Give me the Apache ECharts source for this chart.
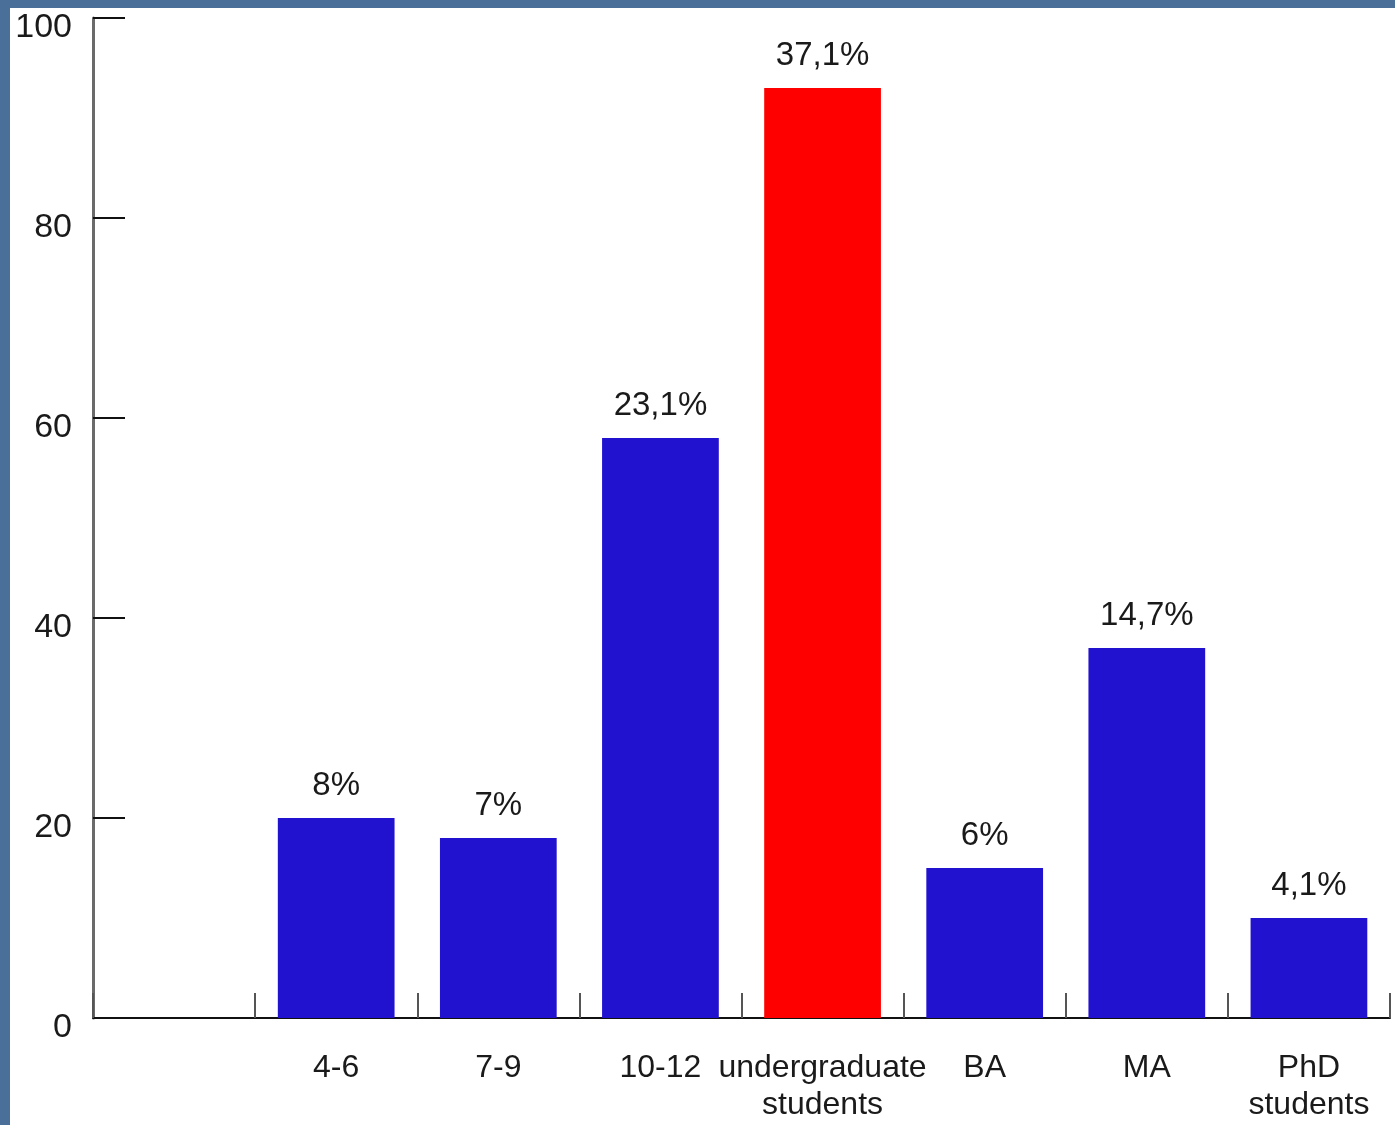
<!DOCTYPE html>
<html>
<head>
<meta charset="utf-8">
<script src="https://cdn.jsdelivr.net/npm/echarts@6/dist/echarts.min.js"></script>
<style>
  html, body { margin: 0; padding: 0; background: #4a6f98; width: 1395px; height: 1125px; overflow: hidden; }
  #chart { position: absolute; left: 10px; top: 8px; width: 1385px; height: 1117px; background: #ffffff; }
</style>
</head>
<body>
<div id="chart"></div>
<script>
// Respondent groups by education level
const categories = ['4-6', '7-9', '10-12', 'undergraduate\nstudents', 'BA', 'MA', 'PhD\nstudents'];
const counts = [20, 18, 58, 93, 15, 37, 10];
const shareLabels = ['8%', '7%', '23,1%', '37,1%', '6%', '14,7%', '4,1%'];
const highlighted = 'undergraduate\nstudents';
const yTicks = { min: 0, max: 100, interval: 20 };

const BLUE = '#2112cf';
const RED = '#ff0000';

// leading empty slot keeps the first group away from the value axis
const xData = [''].concat(categories);
const barData = [null].concat(counts.map(function (v, i) {
  return {
    value: v,
    itemStyle: { color: categories[i] === highlighted ? RED : BLUE },
    label: { formatter: shareLabels[i] }
  };
}));

const chart = echarts.init(document.getElementById('chart'), null, { renderer: 'canvas' });
chart.setOption({
  animation: false,
  grid: { left: 83, right: 5, top: 10, bottom: 107, containLabel: false, outerBoundsMode: 'none' },
  xAxis: {
    type: 'category',
    data: xData,
    boundaryGap: true,
    axisLine: { lineStyle: { color: '#111', width: 2 } },
    axisTick: { show: true, inside: true, length: 25, alignWithLabel: false, lineStyle: { color: '#555', width: 2 } },
    axisLabel: {
      interval: 0,
      margin: 32,
      color: '#1a1a1a',
      fontFamily: 'Liberation Sans, Arial, sans-serif',
      fontSize: 32,
      lineHeight: 37
    },
    splitLine: { show: false }
  },
  yAxis: {
    type: 'value',
    min: yTicks.min,
    max: yTicks.max,
    interval: yTicks.interval,
    axisLine: { show: true, lineStyle: { color: '#6a6a6a', width: 3 } },
    axisTick: { show: true, inside: true, length: 32, lineStyle: { color: '#111', width: 2 } },
    axisLabel: {
      margin: 21,
      color: '#1a1a1a',
      fontFamily: 'Liberation Sans, Arial, sans-serif',
      fontSize: 34,
      verticalAlign: 'top',
      lineHeight: 20
    },
    splitLine: { show: false }
  },
  series: [{
    type: 'bar',
    data: barData,
    barCategoryGap: '28%',
    label: {
      show: true,
      position: 'top',
      distance: 16,
      color: '#1a1a1a',
      fontFamily: 'Liberation Sans, Arial, sans-serif',
      fontSize: 33
    }
  }]
});
</script>
</body>
</html>
